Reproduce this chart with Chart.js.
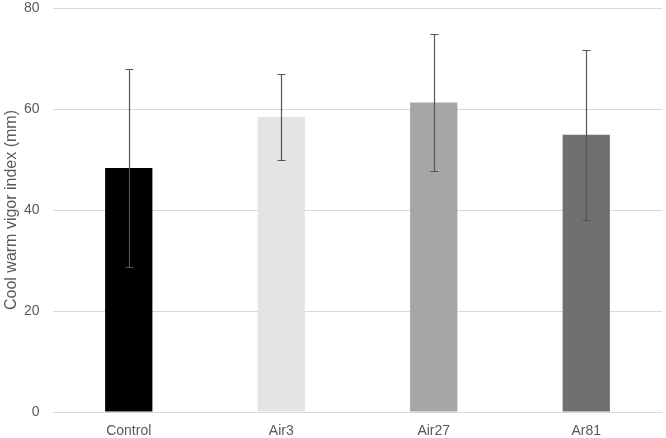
<!DOCTYPE html>
<html>
<head>
<meta charset="utf-8">
<script src="https://cdn.jsdelivr.net/npm/chart.js@4/dist/chart.umd.min.js"></script>
<style>
  html, body { margin: 0; padding: 0; background: #ffffff; }
  #wrap { width: 666px; height: 438px; }
</style>
</head>
<body>
<div id="wrap"><canvas id="c" width="666" height="438"></canvas></div>
<script>
const categories = ["Control", "Air3", "Air27", "Ar81"];
const means = [48.3, 58.4, 61.3, 54.9];
const errors = [19.6, 8.5, 13.5, 16.8];
const barColors = ["#000000", "#e4e4e4", "#a6a6a6", "#707070"];
const yTicks = [0, 20, 40, 60, 80];
const yTitle = "Cool warm vigor index (mm)";

const errorBarPlugin = {
  id: "errorBars",
  afterDatasetsDraw(chart) {
    const ctx = chart.ctx;
    const yScale = chart.scales.y;
    const meta = chart.getDatasetMeta(0);
    ctx.save();
    ctx.strokeStyle = "#555555";
    ctx.lineWidth = 1.2;
    meta.data.forEach((bar, i) => {
      const x = Math.round(bar.x) + 0.5;
      const yTop = Math.round(yScale.getPixelForValue(means[i] + errors[i])) + 0.5;
      const yBot = Math.round(yScale.getPixelForValue(means[i] - errors[i])) + 0.5;
      const cap = 4;
      ctx.beginPath();
      ctx.moveTo(x, yTop);
      ctx.lineTo(x, yBot);
      ctx.moveTo(x - cap, yTop);
      ctx.lineTo(x + cap, yTop);
      ctx.moveTo(x - cap, yBot);
      ctx.lineTo(x + cap, yBot);
      ctx.stroke();
    });
    ctx.restore();
  }
};

new Chart(document.getElementById("c"), {
  type: "bar",
  data: {
    labels: categories,
    datasets: [{
      data: means,
      backgroundColor: barColors,
      borderWidth: 0,
      barPercentage: 0.31,
      categoryPercentage: 1.0
    }]
  },
  options: {
    responsive: false,
    animation: false,
    devicePixelRatio: 1,
    layout: { padding: { top: 8, right: 3.5, left: 0, bottom: 0 } },
    plugins: {
      legend: { display: false },
      tooltip: { enabled: false }
    },
    scales: {
      x: {
        grid: { display: false, drawTicks: false },
        border: { display: false },
        ticks: {
          color: "#595959",
          font: { family: "'Liberation Sans', Arial, sans-serif", size: 14 },
          padding: 11,
          maxRotation: 0
        },
        afterFit(scale) { scale.height = 26; }
      },
      y: {
        min: 0,
        max: 80,
        afterBuildTicks(scale) { scale.ticks = yTicks.map(v => ({ value: v })); },
        grid: { color: "#d9d9d9", lineWidth: 1, drawTicks: false },
        border: { display: false },
        ticks: {
          color: "#595959",
          font: { family: "'Liberation Sans', Arial, sans-serif", size: 14 },
          padding: 13
        },
        title: {
          display: true,
          text: yTitle,
          color: "#595959",
          font: { family: "'Liberation Sans', Arial, sans-serif", size: 16 },
          padding: { top: 2, bottom: 0 }
        },
        afterFit(scale) {
          scale.width = 52.5;
          scale.paddingTop = 8;
          scale.paddingBottom = 0;
        }
      }
    }
  },
  plugins: [errorBarPlugin]
});
</script>
</body>
</html>
